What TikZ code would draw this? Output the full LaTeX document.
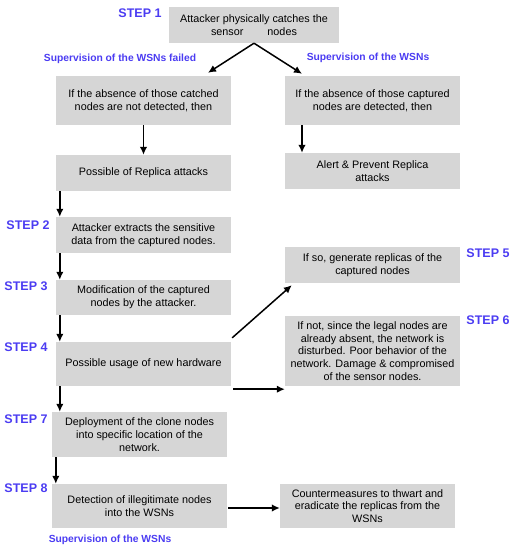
\documentclass[tikz,border=0pt]{standalone}
\usepackage{fontspec}
\setmainfont{Liberation Sans}
\usetikzlibrary{arrows.meta}
\definecolor{boxgray}{HTML}{D6D6D6}
\definecolor{stepblue}{HTML}{4B3CF2}

\begin{document}
\begin{tikzpicture}[x=1pt,y=-1pt,
    box/.style={fill=boxgray,minimum width=175pt,inner sep=0pt,align=center,
      font=\fontsize{10.8}{12.8}\selectfont},
    steplabel/.style={text=stepblue,font=\fontsize{12.5}{14}\selectfont\bfseries},
    suplabel/.style={text=stepblue,font=\fontsize{10.3}{12}\selectfont\bfseries},
    arr/.style={-{Latex[length=8pt,width=7.5pt]},line width=1.5pt}]
  \useasboundingbox (0,0) rectangle (516,550);

  % left column
  \node[box,minimum width=170pt,minimum height=36pt] (catch) at (254,25)
    {Attacker physically catches the\\sensor\hspace{24pt}nodes};
  \node[box,minimum height=49pt] (notdet) at (143.5,100.5)
    {If the absence of those catched\\nodes are not detected, then};
  \node[box,minimum height=36pt] (possible) at (143.5,173) {Possible of Replica attacks};
  \node[box,minimum height=36pt] (extract) at (143.5,235)
    {Attacker extracts the sensitive\\data from the captured nodes.};
  \node[box,minimum height=35pt] (modif) at (143.5,297.5)
    {Modification of the captured\\nodes by the attacker.};
  \node[box,minimum height=44pt] (hardware) at (143.5,364) {Possible usage of new hardware};
  \node[box,minimum height=45pt] (deploy) at (139.5,434.5)
    {Deployment of the clone nodes\\into specific location of the\\network.};
  \node[box,minimum height=44pt] (detect) at (139.5,506)
    {Detection of illegitimate nodes\\into the WSNs};

  % right column
  \node[box,minimum height=49pt] (det) at (372.5,100.5)
    {If the absence of those captured\\nodes are detected, then};
  \node[box,minimum height=36pt] (alert) at (372.5,171) {Alert \& Prevent Replica\\attacks};
  \node[box,minimum height=36pt] (ifso) at (372.5,265)
    {If so, generate replicas of the\\captured nodes};
  \node[box,minimum height=70pt] (ifnot) at (372.5,351)
    {If not, since the legal nodes are\\already absent, the network is\\disturbed. Poor behavior of the\\network. Damage \& compromised\\of the sensor nodes.};
  \node[box,minimum height=44pt] (counter) at (367.5,506)
    {Countermeasures to thwart and\\eradicate the replicas from the\\WSNs};

  % labels
  \foreach \name/\txt/\x/\y in {s1/STEP 1/140/13, s2/STEP 2/28/225, s3/STEP 3/26/286,
      s4/STEP 4/26/347, s5/STEP 5/488/253, s6/STEP 6/488/320, s7/STEP 7/26/419,
      s8/STEP 8/26/488} {
    \node[steplabel] (\name) at (\x,\y) {\txt};
  }
  \node[suplabel] (supfail) at (120,59) {Supervision of the WSNs failed};
  \node[suplabel] (supok) at (368,58) {Supervision of the WSNs};
  \node[suplabel] (supend) at (110,540) {Supervision of the WSNs};

  % arrows
  \draw[arr] (catch.south) -- ([xshift=64.5pt,yshift=3pt]notdet.north);
  \draw[arr] (catch.south) -- ([xshift=-70.5pt,yshift=2pt]det.north);
  \draw[arr] (notdet.south) -- (possible.north);
  \draw[arr] ([xshift=-70.5pt]det.south) -- ([xshift=-70.5pt]alert.north);
  \foreach \a/\b in {possible/extract, extract/modif, modif/hardware, hardware/deploy, deploy/detect} {
    \draw[arr] ([xshift=4pt]\a.south west) -- ([xshift=4pt]\a.south west |- \b.north);
  }
  \draw[arr] ([shift={(1pt,4pt)}]hardware.north east) -- ([shift={(7pt,-2pt)}]ifso.south west);
  \draw[arr] ([shift={(2pt,-3pt)}]hardware.south east) -- ([yshift=-3pt]ifnot.south west);
  \draw[arr] ([shift={(1pt,-2pt)}]detect.east) -- ([yshift=-2pt]counter.west);
\end{tikzpicture}
\end{document}
